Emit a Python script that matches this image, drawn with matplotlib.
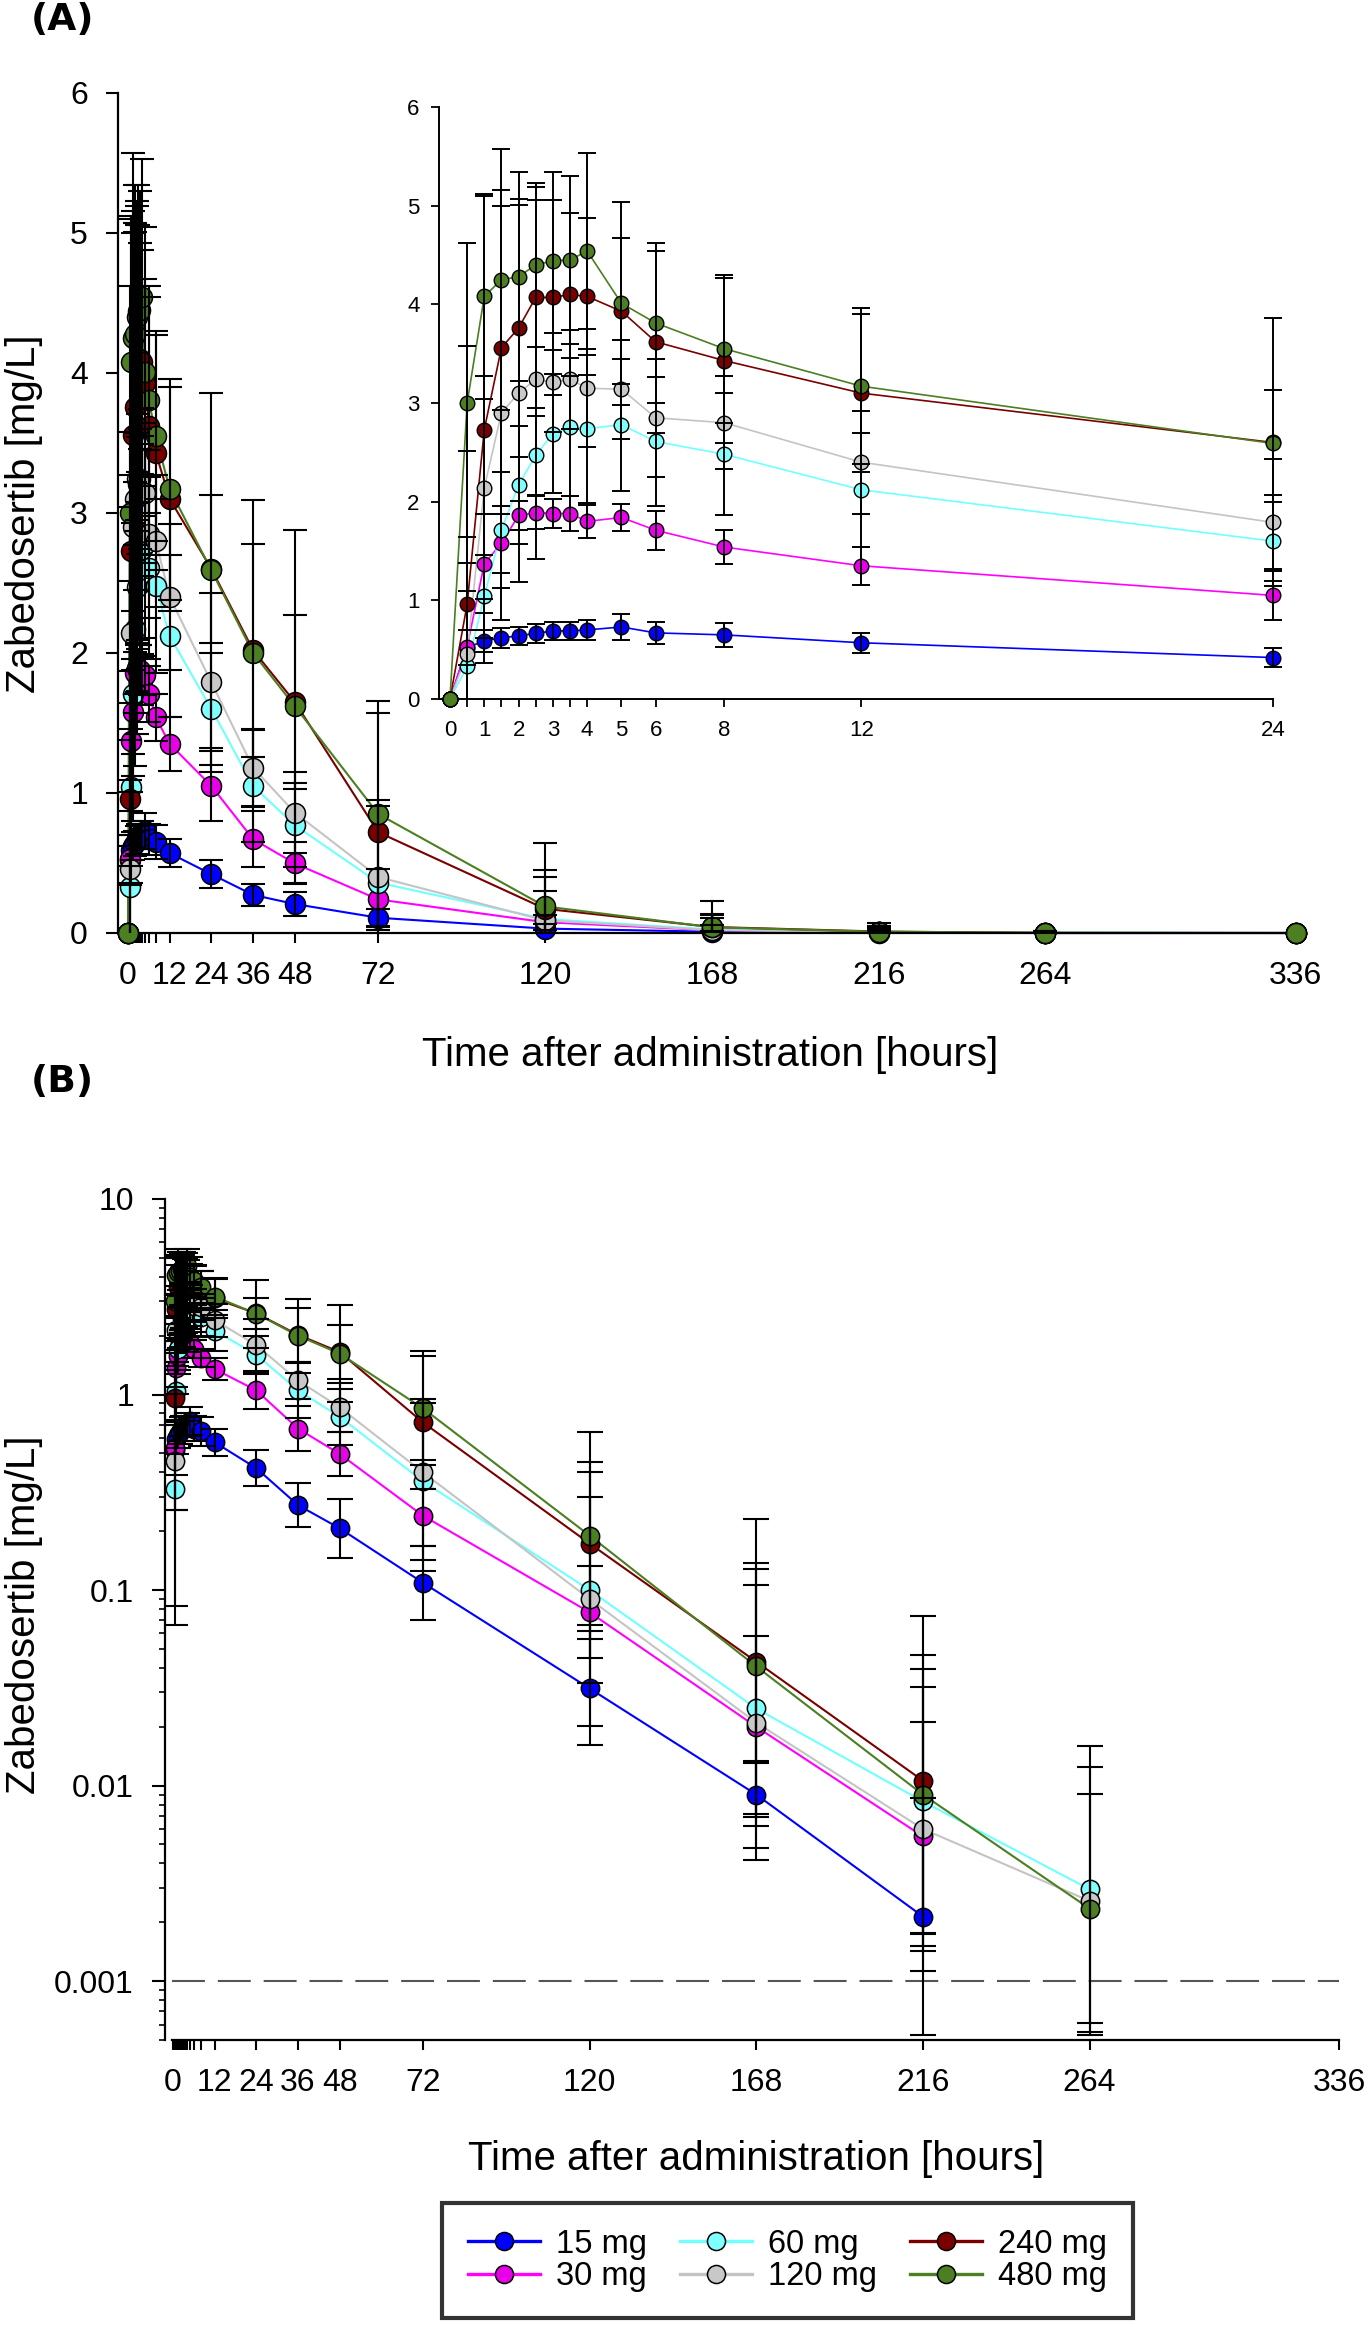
import numpy as np
import matplotlib
matplotlib.use('Agg')
import matplotlib.pyplot as plt
from matplotlib.lines import Line2D

plt.rcParams['font.family'] = ['Liberation Sans', 'DejaVu Sans']

# ---------------- data ----------------
times = [0, 0.5, 1, 1.5, 2, 2.5, 3, 3.5, 4, 5, 6, 8, 12, 24, 36, 48, 72, 120, 168, 216, 264, 336]

doses = ['15 mg', '30 mg', '60 mg', '120 mg', '240 mg', '480 mg']

mean_15 = [0, 0.52, 0.59, 0.62, 0.64, 0.665, 0.69, 0.69, 0.70, 0.73, 0.67, 0.65, 0.57, 0.42, 0.272, 0.207, 0.109, 0.0314, 0.0090, 0.00214, 0, 0]
sd_15 = [0, 0.18, 0.11, 0.10, 0.09, 0.10, 0.09, 0.09, 0.10, 0.13, 0.11, 0.12, 0.10, 0.10, 0.08, 0.085, 0.06, 0.03, 0.004, 0.0065, 0, 0]

mean_30 = [0, 0.53, 1.37, 1.58, 1.86, 1.89, 1.88, 1.88, 1.80, 1.84, 1.71, 1.54, 1.35, 1.05, 0.67, 0.497, 0.24, 0.077, 0.020, 0.0055, 0, 0]
sd_30 = [0, 0.56, 0.50, 0.30, 0.15, 0.17, 0.15, 0.18, 0.17, 0.14, 0.20, 0.17, 0.19, 0.25, 0.20, 0.15, 0.22, 0.055, 0.038, 0.0156, 0, 0]

mean_60 = [0, 0.33, 1.04, 1.71, 2.17, 2.47, 2.69, 2.76, 2.74, 2.78, 2.61, 2.48, 2.12, 1.60, 1.05, 0.77, 0.36, 0.10, 0.0248, 0.0083, 0.00295, 0]
sd_60 = [0, 1.31, 0.42, 0.59, 0.60, 0.40, 0.60, 0.70, 0.75, 0.67, 0.65, 0.62, 0.58, 0.40, 0.40, 0.30, 0.55, 0.20, 0.103, 0.031, 0.0129, 0]

mean_120 = [0, 0.456, 2.14, 2.90, 3.10, 3.24, 3.21, 3.24, 3.15, 3.14, 2.85, 2.80, 2.40, 1.79, 1.18, 0.86, 0.40, 0.090, 0.021, 0.0060, 0.00257, 0]
sd_120 = [0, 2.06, 1.13, 2.10, 1.91, 1.82, 0.50, 0.50, 0.60, 0.50, 0.60, 0.47, 0.52, 0.64, 0.28, 0.29, 0.55, 0.31, 0.085, 0.0259, 0.0099, 0]

mean_240 = [0, 0.96, 2.73, 3.56, 3.76, 4.07, 4.07, 4.10, 4.08, 3.93, 3.62, 3.43, 3.10, 2.60, 2.02, 1.65, 0.72, 0.173, 0.043, 0.0106, 0, 0]
sd_240 = [0, 2.62, 2.37, 1.60, 1.31, 1.12, 0.99, 0.83, 0.80, 0.74, 0.92, 0.84, 0.80, 0.53, 0.76, 0.62, 0.85, 0.28, 0.095, 0.0634, 0, 0]

mean_480 = [0, 3.00, 4.08, 4.25, 4.28, 4.40, 4.44, 4.45, 4.54, 4.01, 3.81, 3.55, 3.17, 2.59, 2.00, 1.62, 0.85, 0.19, 0.0407, 0.0090, 0.00235, 0]
sd_480 = [0, 1.62, 1.04, 1.32, 1.06, 0.83, 0.90, 0.85, 0.99, 1.03, 0.81, 0.75, 0.79, 1.27, 1.09, 1.26, 0.81, 0.456, 0.19, 0.0375, 0.0067, 0]

means = [mean_15, mean_30, mean_60, mean_120, mean_240, mean_480]
sds = [sd_15, sd_30, sd_60, sd_120, sd_240, sd_480]

line_colors = ['#0000FF', '#FF00FF', '#70FFFF', '#C4C4C4', '#7A0000', '#4B7F22']
face_colors = ['#0000FF', '#E800E8', '#80FFFF', '#C8C8C8', '#7A0000', '#4B7F22']

xtick_major = [0, 12, 24, 36, 48, 72, 120, 168, 216, 264, 336]
xtick_minor = [0.5, 1, 1.5, 2, 2.5, 3, 3.5, 4, 5, 6, 8]
inset_major = [0, 1, 2, 3, 4, 5, 6, 8, 12, 24]
inset_minor = [0.5, 1.5, 2.5, 3.5]
log_major = [10, 1, 0.1, 0.01, 0.001]
log_labels = ['10', '1', '0.1', '0.01', '0.001']
lloq = 0.001

# ---------------- figure ----------------
W, H = 1370, 2327
fig = plt.figure(figsize=(W / 100, H / 100), dpi=100)


def px_axes(left, right, top, bottom):
    return fig.add_axes([left / W, 1 - bottom / H, (right - left) / W, (bottom - top) / H])


def draw(ax, tmax, log, ms, lw, elw, cap, mew):
    t = np.array(times, dtype=float)
    sel_t = t <= tmax
    for i in range(len(doses)):
        m = np.array(means[i], dtype=float)
        mask = sel_t & (m > 0) if log else sel_t.copy()
        ax.plot(t[mask], m[mask], color=line_colors[i], lw=lw, zorder=2 + i * 0.01, clip_on=False)
        ax.plot(t[mask], m[mask], ls='none', marker='o', ms=ms, mfc=face_colors[i],
                mec='black', mew=mew, zorder=3 + i * 0.01, clip_on=False)
    for i in range(len(doses)):
        m = np.array(means[i], dtype=float)
        s = np.array(sds[i], dtype=float)
        e = sel_t & (s > 0) & (m > 0)
        if log:
            lower = m[e] * s[e] / (m[e] + s[e])
            yerr = [lower, s[e]]
        else:
            yerr = [s[e], s[e]]
        ax.errorbar(t[e], m[e], yerr=yerr, fmt='none', ecolor='black', elinewidth=elw,
                    capsize=cap, capthick=elw, zorder=5)


def style(ax, spinew):
    for sp in ['top', 'right']:
        ax.spines[sp].set_visible(False)
    for sp in ['left', 'bottom']:
        ax.spines[sp].set_linewidth(spinew)
    ax.set_facecolor('none')


# ---------- Panel A main ----------
pxh = 3.475
x0A = 128
axA = px_axes(x0A - 2.9 * pxh, x0A + 340 * pxh, 93, 933)
axA.set_xlim(-2.9, 340)
axA.set_ylim(0, 6)
draw(axA, 400, False, ms=14.4, lw=1.5, elw=1.5, cap=8.6, mew=1.1)
style(axA, 1.6)
axA.spines['bottom'].set_bounds(-2.9, 336)
axA.set_xticks(xtick_major)
axA.set_xticklabels([str(v) for v in xtick_major])
axA.set_xticks(xtick_minor, minor=True)
axA.set_yticks(range(7))
axA.tick_params(axis='x', which='both', length=7.5, width=1.5, pad=13, labelsize=23, direction='out')
axA.tick_params(axis='y', which='both', length=8.6, width=1.5, pad=13, labelsize=23, direction='out')

# ---------- Inset ----------
pxi = 34.29
x0I = 450
axI = px_axes(x0I - 0.32 * pxi, x0I + 24.6 * pxi, 107, 699)
axI.set_xlim(-0.32, 24.6)
axI.set_ylim(0, 6)
draw(axI, 24, False, ms=10.5, lw=1.2, elw=1.4, cap=6.5, mew=1.0)
style(axI, 1.4)
axI.spines['bottom'].set_bounds(-0.32, 24)
axI.set_xticks(inset_major)
axI.set_xticklabels([str(v) for v in inset_major])
axI.set_xticks(inset_minor, minor=True)
axI.set_yticks(range(7))
axI.tick_params(axis='x', which='both', length=5.8, width=1.3, pad=9, labelsize=16, direction='out')
axI.tick_params(axis='y', which='both', length=6, width=1.3, pad=8, labelsize=16, direction='out')

# ---------- Panel B ----------
pxb = 3.4717
x0B = 173
axB = px_axes(x0B - 2.3 * pxb, x0B + 340 * pxb, 1199, 2040)
axB.set_xlim(-2.3, 340)
axB.set_yscale('log')
axB.set_ylim(0.0005, 10)
draw(axB, 400, True, ms=13.2, lw=1.5, elw=1.5, cap=9.5, mew=1.1)
style(axB, 1.6)
axB.spines['bottom'].set_bounds(-0.3, 336)
axB.plot([-0.3, 336], [lloq, lloq], color='#555555', lw=1.5, ls=(0, (15.8, 6.2)), zorder=1)
axB.set_xticks(xtick_major)
axB.set_xticklabels([str(v) for v in xtick_major])
axB.set_xticks(xtick_minor, minor=True)
axB.set_yticks(log_major)
axB.set_yticklabels(log_labels)
minors = [k * 10.0 ** d for d in range(-4, 1) for k in range(2, 10) if 0.0005 <= k * 10.0 ** d < 10]
axB.set_yticks(minors, minor=True)
axB.set_yticklabels([], minor=True)
axB.tick_params(axis='x', which='both', length=7.5, width=1.5, pad=13, labelsize=23, direction='out')
axB.tick_params(axis='y', which='major', length=9.4, width=1.5, pad=13, labelsize=23, direction='out')
axB.tick_params(axis='y', which='minor', length=4, width=1.2, direction='out')

# ---------- labels ----------
fig.text(24.5 / W, 1 - 514 / H, 'Zabedosertib [mg/L]', rotation=90, ha='center', va='center', fontsize=29)
fig.text(24.5 / W, 1 - 1615 / H, 'Zabedosertib [mg/L]', rotation=90, ha='center', va='center', fontsize=29)
fig.text(710 / W, 1 - 1066 / H, 'Time after administration [hours]', ha='center', va='baseline', fontsize=29)
fig.text(756 / W, 1 - 2170 / H, 'Time after administration [hours]', ha='center', va='baseline', fontsize=29)
fig.text(31 / W, 1 - 2 / H, '(A)', ha='left', va='top', fontsize=27, fontweight='bold', family=['DejaVu Sans'])
fig.text(31 / W, 1 - 1064 / H, '(B)', ha='left', va='top', fontsize=27, fontweight='bold', family=['DejaVu Sans'])

# ---------- legend ----------
handles = [Line2D([0], [0], color=line_colors[i], lw=2.4, marker='o', ms=13, mfc=face_colors[i],
                  mec='black', mew=1.1) for i in range(len(doses))]
leg = fig.legend(handles, doses, loc='center', bbox_to_anchor=(787.5 / W, 1 - 2260.5 / H), ncol=3,
                 fontsize=23.5, frameon=True, fancybox=False, edgecolor='black', handlelength=2.2,
                 handletextpad=0.5, columnspacing=1.0, labelspacing=0.05, borderpad=0.8,
                 borderaxespad=0, numpoints=1)
leg.get_frame().set_linewidth(3)

fig.savefig('out.png', dpi=100)
